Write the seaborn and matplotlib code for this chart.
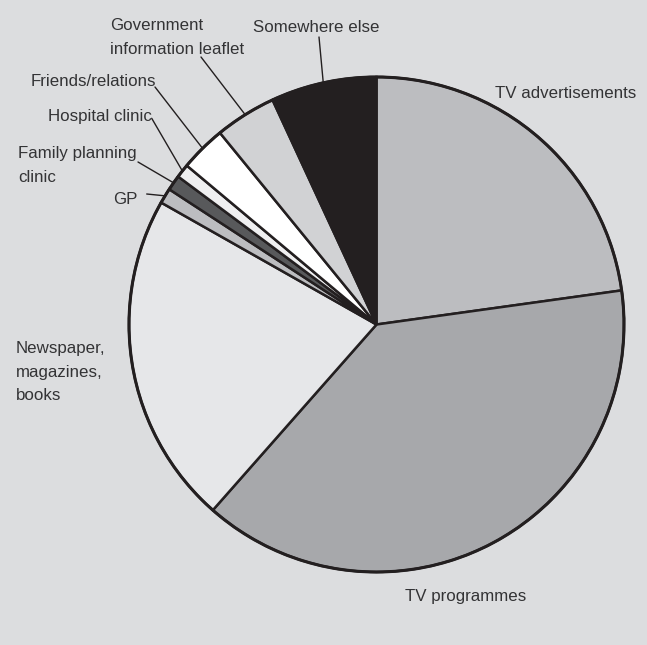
import numpy as np
import pandas as pd
import seaborn as sns
import matplotlib
matplotlib.use('Agg')
import matplotlib.pyplot as plt

sns.set_theme(style="white")
plt.rcParams['font.family'] = ['Liberation Sans', 'DejaVu Sans']

# ------------ DATA ------------ #
sources = ['TV advertisements', 'TV programmes', 'Newspaper,\nmagazines,\nbooks', 'GP',
           'Family planning\nclinic', 'Hospital clinic', 'Friends/relations',
           'Government\ninformation leaflet', 'Somewhere else']
shares  = [22.8, 38.7, 21.7, 1.0, 1.0, 0.9, 3.0, 4.0, 6.9]
colours = ['#bcbdc0', '#a7a8ab', '#e6e7e9', '#bcbdc0', '#58595b',
           '#efeff0', '#ffffff', '#d1d2d4', '#231f20']

data = pd.DataFrame({'source': sources, 'share': shares, 'colour': colours})

# ------------ LAYOUT (pixel coords, y from top) ------------ #
W, H = 647, 645
cx, cy, R = 376.5, 324.5, 247.5
# label anchor (left, vertical centre) and leader start (None = no leader)
label_pos = {
    'TV advertisements': (495, 93, None),
    'TV programmes': (405, 596, None),
    'Newspaper,\nmagazines,\nbooks': (16, 372, None),
    'GP': (113, 199, (146.7, 194)),
    'Family planning\nclinic': (18, 165.5, (138, 162)),
    'Hospital clinic': (48, 117, (151.7, 118.3)),
    'Friends/relations': (31, 82, (155, 87)),
    'Government\ninformation leaflet': (110, 37.5, (201, 57)),
    'Somewhere else': (253, 28, (319, 37)),
}
bg = '#dcdddf'
ink = '#231f20'

fig = plt.figure(figsize=(W / 100, H / 100), dpi=100, facecolor=bg)
ax = fig.add_axes([0, 0, 1, 1])
ax.set_facecolor(bg)

wedges, _ = ax.pie(data.share, colors=data.colour, startangle=90, counterclock=False,
                   radius=R, center=(cx, H - cy),
                   wedgeprops={'edgecolor': ink, 'linewidth': 1.8})
# outer rim a little heavier
circle = plt.Circle((cx, H - cy), R, fill=False, edgecolor=ink, linewidth=2.2)
ax.add_patch(circle)

for w, src in zip(wedges, data.source):
    lx, ly, lead = label_pos[src]
    ax.text(lx, H - ly, src, ha='left', va='center', fontsize=12.2,
            color='#333335', linespacing=1.68)
    if lead is not None:
        mid = np.deg2rad((w.theta1 + w.theta2) / 2.)
        ex, ey = cx + R * np.cos(mid), (H - cy) + R * np.sin(mid)
        ax.plot([lead[0], ex], [H - lead[1], ey], color=ink, linewidth=1.0)

ax.set_xlim(0, W)
ax.set_ylim(0, H)
ax.set_aspect('equal')
ax.axis('off')

fig.savefig('out.png', dpi=100, facecolor=bg)
